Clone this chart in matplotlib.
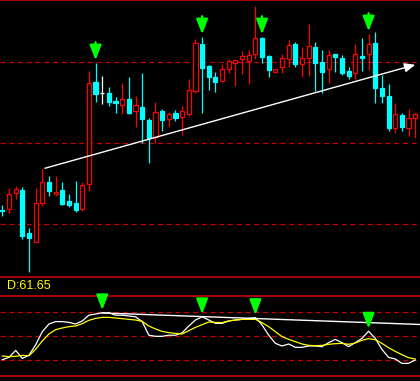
import numpy as np
import matplotlib
matplotlib.use('Agg')
import matplotlib.pyplot as plt


# candle data, one row per bar
opens = [14.52, 14.53, 14.69, 14.72, 14.29, 14.20, 14.59, 14.80, 14.68, 14.72,
         14.61, 14.59, 14.53, 14.78, 15.80, 15.69, 15.69, 15.61, 15.57, 15.63,
         15.51, 15.55, 15.42, 15.25, 15.51, 15.43, 15.49, 15.45, 15.48, 15.71,
         16.18, 15.96, 15.85, 15.81, 15.93, 15.99, 16.03, 16.01, 16.08, 16.24,
         16.06, 15.90, 15.95, 16.03, 16.18, 15.98, 16.04, 16.15, 16.00, 15.93,
         16.08, 16.04, 15.91, 15.89, 16.06, 16.08, 16.19, 15.74, 15.66, 15.34,
         15.47, 15.34, 15.44]
highs = [14.57, 14.74, 14.76, 14.75, 14.34, 14.74, 14.93, 14.86, 14.86, 14.80,
         14.68, 14.81, 14.80, 15.91, 15.99, 15.86, 15.75, 15.65, 15.79, 15.85,
         15.66, 15.89, 15.44, 15.60, 15.53, 15.50, 15.52, 15.56, 15.83, 16.23,
         16.25, 15.97, 15.90, 15.98, 16.03, 16.02, 16.11, 16.12, 16.56, 16.25,
         16.07, 15.93, 16.08, 16.22, 16.20, 16.15, 16.38, 16.20, 16.12, 16.12,
         16.08, 16.07, 15.95, 16.18, 16.24, 16.28, 16.30, 15.87, 15.78, 15.59,
         15.49, 15.53, 15.49]
lows = [14.46, 14.49, 14.63, 14.23, 13.90, 14.20, 14.56, 14.66, 14.66, 14.57,
        14.55, 14.50, 14.51, 14.71, 15.60, 15.58, 15.56, 15.49, 15.48, 15.48,
        15.35, 15.19, 14.99, 15.19, 15.31, 15.35, 15.41, 15.27, 15.46, 15.69,
        15.49, 15.72, 15.70, 15.80, 15.89, 15.76, 15.88, 15.78, 16.03, 15.99,
        15.85, 15.90, 15.89, 15.95, 15.95, 15.85, 15.86, 15.71, 15.69, 15.79,
        15.90, 15.87, 15.83, 15.83, 15.91, 15.92, 15.59, 15.59, 15.31, 15.29,
        15.31, 15.26, 15.24]
closes = [14.51, 14.68, 14.73, 14.26, 14.24, 14.59, 14.80, 14.71, 14.70, 14.58,
          14.57, 14.52, 14.77, 15.79, 15.68, 15.69, 15.60, 15.59, 15.63, 15.49,
          15.57, 15.43, 15.24, 15.50, 15.42, 15.48, 15.44, 15.51, 15.72, 16.19,
          15.94, 15.85, 15.80, 15.93, 16.01, 16.02, 16.06, 16.07, 16.24, 16.05,
          15.92, 15.93, 16.04, 16.17, 15.98, 16.04, 16.16, 15.99, 15.90, 16.07,
          16.05, 15.89, 15.86, 16.08, 16.04, 16.18, 15.74, 15.66, 15.34, 15.48,
          15.35, 15.44, 15.48]

# KD indicator
k_vals = [20.4, 23.3, 32, 22, 26, 38.8, 55.4, 65, 68, 68, 67, 65, 68.8, 76, 77.5,
          79, 79, 76, 76, 75, 74, 68, 51, 49.6, 49.6, 51, 51, 54, 62.5, 70, 74,
          70, 65.8, 65.8, 68.8, 70, 70.8, 72, 73, 63.8, 51, 40.8, 37.5, 40, 35.8,
          35.8, 37.5, 37.5, 36.7, 41.7, 45.8, 41.7, 36.7, 41.7, 47, 56, 47, 33.3,
          23.3, 21.3, 15.8, 15.8, 20]
d_vals = [25, 24.2, 24.6, 25.8, 25.4, 33.3, 43.8, 52.5, 57.9, 60, 61.7, 62.5, 65.4,
          69.6, 72, 73.3, 73.3, 72.5, 71.7, 70.8, 70, 68.3, 62.5, 58.8, 55.8, 54.2,
          53.3, 52.5, 56.7, 60.8, 64.2, 67.5, 67, 66.7, 68.8, 70, 70.8, 70.8, 70.8,
          66.7, 61.7, 55.4, 49.2, 45.8, 42.9, 40, 38.3, 37.9, 38.3, 39.6, 40.4, 40.8,
          39.6, 41.2, 44.6, 46.7, 45.4, 40.8, 35.4, 30.8, 26.7, 22.9, 21.3]
d_label = 'D:61.65'

price_grid = [16.00, 15.19, 14.38]
kd_grid = [80, 50, 20]

trend_x = [6, 62.4]
trend_y = [14.93, 15.98]
kd_line_x = [15, 62.7]
kd_line_y = [78.8, 64.4]

price_signals = [14, 30, 39, 55]
kd_signals = [15, 30, 38, 55]

BG = 'black'
GRID = '#C80000'
UP = '#FF0000'
DOWN = '#00FFFF'
ARROW = '#00FF00'

W, H = 420, 381
fig = plt.figure(figsize=(W / 100, H / 100), dpi=100, facecolor=BG)
ax = fig.add_axes([0, 1 - 277 / H, 1, 277 / H], facecolor=BG)
ax2 = fig.add_axes([0, 5 / H, 1, 80 / H], facecolor=BG)

n = len(opens)
x = np.arange(n)
o, h, l, c = map(np.array, (opens, highs, lows, closes))

for a in (ax, ax2):
    a.set_xlim(-0.35, 62.72)
    a.set_xticks([])
    a.set_yticks([])
    for s in ('left', 'right'):
        a.spines[s].set_visible(False)
    for s in ('top', 'bottom'):
        a.spines[s].set_color(GRID)
        a.spines[s].set_linewidth(1.2)

ax.set_ylim(13.85, 16.62)
ax2.set_ylim(0, 100)

for g in price_grid:
    ax.axhline(g, color=GRID, lw=0.9, linestyle=(0, (4, 3)), zorder=1)
for g in kd_grid:
    ax2.axhline(g, color=GRID, lw=0.9, linestyle=(0, (4, 3)), zorder=1)

# candles
cols = np.where(c > o, UP, np.where(c < o, DOWN, 'white'))
faces = np.where(c > o, BG, cols)
ax.vlines(x, l, h, colors=cols, lw=0.9, zorder=2)
ax.bar(x, np.abs(c - o), bottom=np.minimum(o, c), width=0.62,
       color=faces, edgecolor=cols, linewidth=0.9, zorder=3)

# trend line with arrow head
ax.annotate('', xy=(trend_x[1], trend_y[1]), xytext=(trend_x[0], trend_y[0]),
            arrowprops=dict(arrowstyle='-|>,head_length=0.8,head_width=0.35',
                            color='white', lw=1.0, mutation_scale=8),
            zorder=4)

arrow_kw = dict(arrowstyle='-|>,head_length=0.9,head_width=0.35',
                color=ARROW, lw=1.6, mutation_scale=10)
for i in price_signals:
    ax.annotate('', xy=(i, h[i]), xytext=(0, 17), textcoords='offset points',
                arrowprops=arrow_kw, zorder=5)

# KD panel
ax2.plot(x, k_vals, color='white', lw=0.9, zorder=3)
ax2.plot(x, d_vals, color='#FFFF00', lw=0.9, zorder=3)
ax2.plot(kd_line_x, kd_line_y, color='white', lw=1.0, zorder=3)
for i in kd_signals:
    ax2.annotate('', xy=(i, k_vals[i]), xytext=(0, 15), textcoords='offset points',
                 arrowprops=arrow_kw, zorder=5)

fig.text(7 / W, 1 - 286 / H, d_label, color='#FFFF00', fontsize=9,
         family='Liberation Sans', va='center', ha='left')

fig.savefig('out.png', dpi=100, facecolor=BG)
